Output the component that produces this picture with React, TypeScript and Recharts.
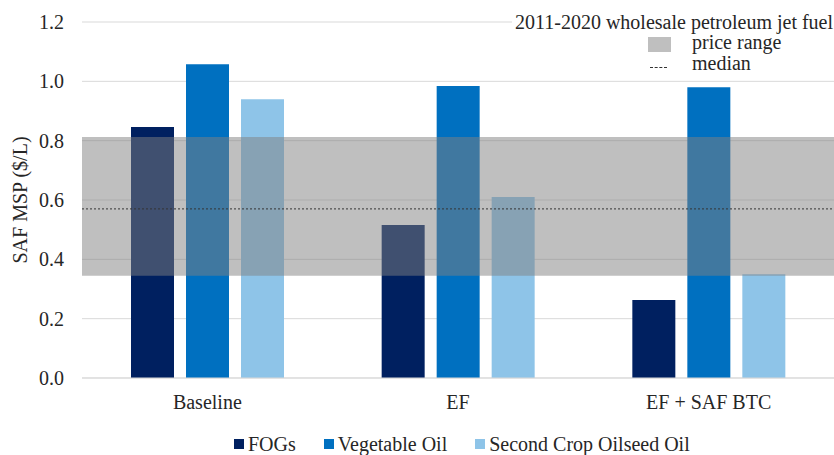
import React from "react";
import {
  ComposedChart,
  Bar,
  XAxis,
  YAxis,
  CartesianGrid,
  ReferenceArea,
  ReferenceLine,
  Label,
} from "recharts";

const categories = ["Baseline", "EF", "EF + SAF BTC"];
const fogs = [0.846, 0.516, 0.263];
const vegetableOil = [1.058, 0.984, 0.98];
const secondCropOil = [0.94, 0.61, 0.35];
const yTicks = [0, 0.2, 0.4, 0.6, 0.8, 1.0, 1.2];
const priceRange = [0.345, 0.812];
const medianPrice = 0.57;

const seriesNames = ["FOGs", "Vegetable Oil", "Second Crop Oilseed Oil"];
const seriesColors = ["#002060", "#0070c0", "#8ec4e8"];

const FONT = "'Liberation Serif', serif";
const TEXT = "#262626";

export default function App() {
  const data = categories.map((category, i) => ({
    category,
    fogs: fogs[i],
    veg: vegetableOil[i],
    second: secondCropOil[i],
  }));

  return (
    <div
      style={{
        position: "absolute",
        left: 0,
        top: 0,
        width: 834,
        height: 455,
        background: "#fff",
        fontFamily: FONT,
        color: TEXT,
      }}
    >
      <ComposedChart
        width={834}
        height={455}
        data={data}
        margin={{ top: 22, right: 0, bottom: 47, left: 0 }}
        barSize={43}
        barGap={12}
      >
        <CartesianGrid vertical={false} stroke="#d9d9d9" />
        <XAxis
          dataKey="category"
          height={30}
          interval={0}
          axisLine={{ stroke: "#d9d9d9" }}
          tickLine={false}
          tickSize={0}
          tickMargin={17}
          tick={{ fontSize: 20, fill: TEXT, fontFamily: FONT }}
        />
        <YAxis
          domain={[0, 1.2]}
          ticks={yTicks}
          width={82}
          axisLine={false}
          tickLine={false}
          tickSize={0}
          tickMargin={18}
          tickFormatter={(v: number) => v.toFixed(1)}
          tick={{ fontSize: 20, fill: TEXT, fontFamily: FONT }}
        >
          <Label
            value="SAF MSP ($/L)"
            angle={-90}
            position="insideLeft"
            offset={20}
            style={{ textAnchor: "middle", fontSize: 20, fill: TEXT, fontFamily: FONT }}
          />
        </YAxis>

        <Bar dataKey="fogs" fill={seriesColors[0]} isAnimationActive={false} />
        <Bar dataKey="veg" fill={seriesColors[1]} isAnimationActive={false} />
        <Bar dataKey="second" fill={seriesColors[2]} isAnimationActive={false} />
      </ComposedChart>

      {/* jet fuel price band + median, laid over the bars on the same scale */}
      <div style={{ position: "absolute", left: 0, top: 0, pointerEvents: "none" }}>
        <ComposedChart
          width={834}
          height={455}
          data={data}
          margin={{ top: 22, right: 0, bottom: 77, left: 82 }}
          barSize={43}
          barGap={12}
        >
          <XAxis dataKey="category" hide />
          <YAxis domain={[0, 1.2]} ticks={yTicks} hide />
          <Bar dataKey="fogs" fill="none" isAnimationActive={false} />
          <ReferenceArea
            y1={priceRange[0]}
            y2={priceRange[1]}
            fill="#7f7f7f"
            fillOpacity={0.5}
            stroke="none"
          />
          <ReferenceLine y={medianPrice} stroke="#333" strokeDasharray="2 2" />
        </ComposedChart>
      </div>

      {/* top-right note */}
      <div
        style={{
          position: "absolute",
          left: 512,
          top: 12,
          width: 322,
          height: 20,
          background: "#fff",
          fontSize: 20,
          lineHeight: "20px",
          whiteSpace: "nowrap",
          paddingLeft: 3,
          boxSizing: "border-box",
        }}
      >
        2011-2020 wholesale petroleum jet fuel
      </div>
      <div
        style={{
          position: "absolute",
          left: 648,
          top: 37,
          width: 23,
          height: 15,
          background: "#bfbfbf",
        }}
      />
      <div style={{ position: "absolute", left: 692, top: 32, fontSize: 20, lineHeight: "20px" }}>
        price range
      </div>
      <div
        style={{
          position: "absolute",
          left: 650,
          top: 67,
          width: 17,
          borderTop: "1px dashed #333",
        }}
      />
      <div style={{ position: "absolute", left: 692, top: 53, fontSize: 20, lineHeight: "20px" }}>
        median
      </div>

      {/* bottom legend */}
      <div
        style={{
          position: "absolute",
          left: 234,
          top: 433,
          height: 22,
          display: "flex",
          alignItems: "center",
          fontSize: 20,
          lineHeight: "22px",
          whiteSpace: "nowrap",
        }}
      >
        {seriesNames.map((name, i) => (
          <div key={name} style={{ display: "flex", alignItems: "center", marginRight: i < 2 ? 28 : 0 }}>
            <span
              style={{
                display: "inline-block",
                width: 10,
                height: 10,
                background: seriesColors[i],
                marginRight: 4,
              }}
            />
            <span>{name}</span>
          </div>
        ))}
      </div>
    </div>
  );
}
